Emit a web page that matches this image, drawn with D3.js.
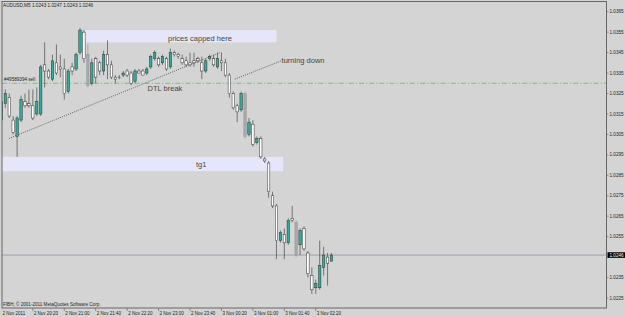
<!DOCTYPE html>
<html>
<head>
<meta charset="utf-8">
<script src="https://d3js.org/d3.v7.min.js"></script>
<style>
body { margin: 0; background: #d4d4d4; }
svg { display: block; }
</style>
</head>
<body>
<div id="chart-container"></div>
<script>
// AUDUSD M5, bars from 2 Nov 2011 19:40 to 3 Nov 2011 02:40
var opens = [1.0312, 1.0320, 1.0323, 1.0312, 1.0304, 1.0312, 1.0321, 1.0320, 1.0319, 1.0315,
    1.0315, 1.0339, 1.0336, 1.0332, 1.0340, 1.0338, 1.0337, 1.0326, 1.0338, 1.0337,
    1.0345, 1.0355, 1.0344, 1.0330, 1.0342, 1.0340, 1.0336, 1.0344, 1.0339, 1.0333,
    1.0333, 1.0334, 1.0336, 1.0335, 1.0331, 1.0336, 1.0336, 1.0335, 1.0338, 1.0342,
    1.0342, 1.0340, 1.0342, 1.0338, 1.0345, 1.0344, 1.0342, 1.0341, 1.0340, 1.0341,
    1.0342, 1.0340, 1.0336, 1.0342, 1.0342, 1.0338, 1.0341, 1.0340, 1.0334, 1.0325,
    1.0319, 1.0317, 1.0325, 1.0305, 1.0310, 1.0301, 1.0303, 1.0293, 1.0291, 1.0275,
    1.0270, 1.0253, 1.0256, 1.0252, 1.0264, 1.0262, 1.0251, 1.0259, 1.0247, 1.0236,
    1.0230, 1.0230, 1.0240, 1.0245, 1.0243];
var highs = [1.0323, 1.0327, 1.0325, 1.0314, 1.0314, 1.0324, 1.0325, 1.0327, 1.0327, 1.0328,
    1.0339, 1.0350, 1.0337, 1.0344, 1.0349, 1.0344, 1.0342, 1.0337, 1.0340, 1.0345,
    1.0357, 1.0356, 1.0349, 1.0342, 1.0343, 1.0341, 1.0346, 1.0351, 1.0341, 1.0334,
    1.0334, 1.0336, 1.0337, 1.0336, 1.0337, 1.0337, 1.0337, 1.0338, 1.0344, 1.0346,
    1.0343, 1.0344, 1.0343, 1.0347, 1.0346, 1.0345, 1.0344, 1.0343, 1.0345, 1.0345,
    1.0343, 1.0343, 1.0342, 1.0344, 1.0344, 1.0345, 1.0345, 1.0342, 1.0335, 1.0326,
    1.0320, 1.0326, 1.0326, 1.0313, 1.0312, 1.0304, 1.0304, 1.0294, 1.0292, 1.0277,
    1.0271, 1.0258, 1.0259, 1.0264, 1.0270, 1.0263, 1.0259, 1.0260, 1.0248, 1.0240,
    1.0234, 1.0253, 1.0250, 1.0247, 1.0247];
var lows = [1.0311, 1.0318, 1.0313, 1.0305, 1.0294, 1.0311, 1.0318, 1.0318, 1.0312, 1.0314,
    1.0314, 1.0328, 1.0332, 1.0331, 1.0334, 1.0333, 1.0322, 1.0325, 1.0334, 1.0336,
    1.0344, 1.0340, 1.0328, 1.0329, 1.0330, 1.0334, 1.0334, 1.0332, 1.0332, 1.0330,
    1.0332, 1.0333, 1.0333, 1.0329, 1.0330, 1.0335, 1.0334, 1.0334, 1.0337, 1.0341,
    1.0338, 1.0339, 1.0336, 1.0337, 1.0343, 1.0342, 1.0339, 1.0338, 1.0338, 1.0338,
    1.0340, 1.0332, 1.0335, 1.0341, 1.0338, 1.0337, 1.0336, 1.0333, 1.0323, 1.0317,
    1.0311, 1.0316, 1.0303, 1.0304, 1.0299, 1.0300, 1.0293, 1.0291, 1.0274, 1.0269,
    1.0244, 1.0252, 1.0244, 1.0251, 1.0262, 1.0245, 1.0246, 1.0248, 1.0235, 1.0227,
    1.0227, 1.0229, 1.0236, 1.0231, 1.0243];
var closes = [1.0321, 1.0325, 1.0314, 1.0306, 1.0313, 1.0322, 1.0319, 1.0319, 1.0313, 1.0321,
    1.0338, 1.0336, 1.0333, 1.0341, 1.0335, 1.0337, 1.0325, 1.0336, 1.0336, 1.0344,
    1.0356, 1.0342, 1.0329, 1.0340, 1.0333, 1.0336, 1.0344, 1.0339, 1.0333, 1.0332,
    1.0333, 1.0335, 1.0334, 1.0330, 1.0336, 1.0335, 1.0334, 1.0337, 1.0343, 1.0345,
    1.0339, 1.0343, 1.0337, 1.0345, 1.0344, 1.0343, 1.0340, 1.0339, 1.0339, 1.0340,
    1.0341, 1.0336, 1.0341, 1.0343, 1.0339, 1.0342, 1.0340, 1.0334, 1.0325, 1.0318,
    1.0316, 1.0325, 1.0304, 1.0311, 1.0300, 1.0303, 1.0294, 1.0292, 1.0277, 1.0270,
    1.0253, 1.0257, 1.0252, 1.0263, 1.0263, 1.0246, 1.0258, 1.0249, 1.0237, 1.0229,
    1.0232, 1.0241, 1.0246, 1.0242, 1.0246];
// bars that show up grey in the screenshot
var greyBars = [22, 62, 75];

var symbolName = "AUDUSD,M5";
var bidPrice = 1.0246;
var priceTicks = [1.0225, 1.0235, 1.0245, 1.0255, 1.0265, 1.0275, 1.0285, 1.0295,
    1.0305, 1.0315, 1.0325, 1.0335, 1.0345, 1.0355, 1.0365];
var firstDateLabel = "2 Nov 2011";
var timeTickBars = [8, 16, 24, 32, 40, 48, 56, 64, 72, 80];
var timeTickLabels = ["2 Nov 20:20", "2 Nov 21:00", "2 Nov 21:40", "2 Nov 22:20", "2 Nov 23:00",
    "2 Nov 23:40", "3 Nov 00:20", "3 Nov 01:00", "3 Nov 01:40", "3 Nov 02:20"];

// objects on the chart: [bar from, bar to, price top, price bottom]
var capZone = [21.3, 70, 1.0356, 1.0350];
var tgZone = [-5, 71.7, 1.0294, 1.0287];
// trend lines: [bar1, price1, bar2, price2]
var dtlLine = [1.93, 1.0303, 55.6, 1.0345];
var turnLine = [59.4, 1.0332, 71.3, 1.0341];
var orderLevel = 1.0330;
var orderLabel = "#49589394 sell";
// text labels: [text, bar, price]
var notes = [
    ["prices capped here", 42.4, 1.03509],
    ["tg1", 49.5, 1.02893],
    ["DTL break", 37.2, 1.0326],
    ["turning down", 71.3, 1.03397]
];
var copyrightText = "FIBH, \u00a9 2001-2011 MetaQuotes Software Corp.";

var width = 625, height = 317;
var frame = {left: 2, top: 1.5, right: 606.5, bottom: 308};

var svg = d3.select("#chart-container")
    .append("svg")
    .attr("width", width)
    .attr("height", height)
    .style("font-family", "'Liberation Sans', Arial, sans-serif");

svg.append("rect")
    .attr("width", width).attr("height", height)
    .attr("fill", "#d4d4d4");

svg.append("clipPath").attr("id", "plotclip")
    .append("rect")
    .attr("x", frame.left).attr("y", frame.top)
    .attr("width", frame.right - frame.left).attr("height", frame.bottom - frame.top);

var x = d3.scaleLinear().domain([0, 84]).range([1.4, 331.5]);
var y = d3.scaleLinear().domain([1.0225, 1.0365]).range([298, 11.7]);

var plot = svg.append("g").attr("clip-path", "url(#plotclip)");

// rectangles (drawn as background)
plot.selectAll("rect.zone")
    .data([capZone, tgZone])
    .enter().append("rect")
    .attr("class", "zone")
    .attr("x", function (d) { return x(d[0]); })
    .attr("y", function (d) { return y(d[2]); })
    .attr("width", function (d) { return x(d[1]) - x(d[0]); })
    .attr("height", function (d) { return y(d[3]) - y(d[2]); })
    .attr("fill", "#e6e6fa");

// order line
plot.append("line")
    .attr("x1", frame.left).attr("x2", frame.right)
    .attr("y1", y(orderLevel)).attr("y2", y(orderLevel))
    .attr("stroke", "#5fcb5f")
    .attr("stroke-width", 0.9)
    .attr("stroke-dasharray", "5,2,1.2,2");

plot.append("text")
    .attr("x", 4).attr("y", y(orderLevel) - 1.8)
    .style("font-size", "4.6px")
    .attr("fill", "#222")
    .text(orderLabel);

// bid line
plot.append("line")
    .attr("x1", frame.left).attr("x2", frame.right)
    .attr("y1", y(bidPrice)).attr("y2", y(bidPrice))
    .attr("stroke", "#8797a6")
    .attr("stroke-width", 0.8);

// trend lines
plot.selectAll("line.trend")
    .data([dtlLine, turnLine])
    .enter().append("line")
    .attr("class", "trend")
    .attr("x1", function (d) { return x(d[0]); })
    .attr("y1", function (d) { return y(d[1]); })
    .attr("x2", function (d) { return x(d[2]); })
    .attr("y2", function (d) { return y(d[3]); })
    .attr("stroke", "#3a3a3a")
    .attr("stroke-width", 0.75)
    .attr("stroke-dasharray", "1,1.2");

// candles
var bars = opens.map(function (o, i) {
    return {i: i, open: o, high: highs[i], low: lows[i], close: closes[i], grey: greyBars.indexOf(i) >= 0};
});

plot.selectAll("line.wick")
    .data(bars)
    .enter().append("line")
    .attr("class", "wick")
    .attr("x1", function (d) { return x(d.i); })
    .attr("x2", function (d) { return x(d.i); })
    .attr("y1", function (d) { return y(d.high); })
    .attr("y2", function (d) { return y(d.low); })
    .attr("stroke", function (d) { return d.grey ? "#8e8e8e" : "#333"; })
    .attr("stroke-width", 0.6);

plot.selectAll("rect.body")
    .data(bars)
    .enter().append("rect")
    .attr("class", "body")
    .attr("x", function (d) { return x(d.i) - 1.2; })
    .attr("width", 2.4)
    .attr("y", function (d) { return y(Math.max(d.open, d.close)); })
    .attr("height", function (d) {
        return Math.max(0.3, Math.abs(y(d.open) - y(d.close)));
    })
    .attr("fill", function (d) {
        if (d.grey) return "#a9a9a9";
        return d.close > d.open ? "#2bb09e" : "#ffffff";
    })
    .attr("stroke", function (d) { return d.grey ? "#939393" : "#2e2e2e"; })
    .attr("stroke-width", 0.5);

// text objects
plot.selectAll("text.note")
    .data(notes)
    .enter().append("text")
    .attr("class", "note")
    .attr("x", function (d) { return x(d[1]); })
    .attr("y", function (d) { return y(d[2]); })
    .style("font-size", "7.5px")
    .attr("fill", "#454545")
    .text(function (d) { return d[0]; });

// header + copyright
var last = bars[bars.length - 1];
svg.append("text")
    .attr("x", 3).attr("y", 7)
    .style("font-size", "4.7px")
    .attr("fill", "#1e1e1e")
    .text(symbolName + " " + [last.open, last.high, last.low, last.close].map(d3.format(".4f")).join(" "));

svg.append("text")
    .attr("x", 3).attr("y", 306)
    .style("font-size", "4.6px")
    .attr("fill", "#1e1e1e")
    .text(copyrightText);

// frame
svg.append("rect")
    .attr("x", frame.left).attr("y", frame.top)
    .attr("width", frame.right - frame.left)
    .attr("height", frame.bottom - frame.top)
    .attr("fill", "none")
    .attr("stroke", "#5c5c5c")
    .attr("stroke-width", 0.9);

// price axis - the label under the bid box is hidden like in MT4
var yAxis = svg.append("g").attr("class", "y-axis");
yAxis.selectAll("line")
    .data(priceTicks)
    .enter().append("line")
    .attr("x1", frame.right).attr("x2", frame.right + 2)
    .attr("y1", function (d) { return y(d); })
    .attr("y2", function (d) { return y(d); })
    .attr("stroke", "#5c5c5c").attr("stroke-width", 0.6);
yAxis.selectAll("text")
    .data(priceTicks.filter(function (d) { return Math.abs(y(d) - y(bidPrice)) > 6; }))
    .enter().append("text")
    .attr("x", frame.right + 3)
    .attr("y", function (d) { return y(d) + 1.6; })
    .style("font-size", "4.6px")
    .attr("fill", "#1e1e1e")
    .text(function (d) { return d3.format(".4f")(d); });

// bid label
svg.append("rect")
    .attr("x", frame.right + 1).attr("y", y(bidPrice) - 2.8)
    .attr("width", width - frame.right - 1).attr("height", 5.6)
    .attr("fill", "#000");
svg.append("text")
    .attr("x", frame.right + 3).attr("y", y(bidPrice) + 1.6)
    .style("font-size", "4.6px")
    .attr("fill", "#fff")
    .text(d3.format(".4f")(bidPrice));

// time axis
var xAxis = svg.append("g").attr("class", "x-axis");
xAxis.append("text")
    .attr("x", 2.5).attr("y", 315)
    .style("font-size", "4.5px")
    .attr("fill", "#1e1e1e")
    .text(firstDateLabel);
xAxis.selectAll("line")
    .data(timeTickBars)
    .enter().append("line")
    .attr("x1", function (d) { return x(d); })
    .attr("x2", function (d) { return x(d); })
    .attr("y1", frame.bottom).attr("y2", frame.bottom + 3)
    .attr("stroke", "#5c5c5c").attr("stroke-width", 0.6);
xAxis.selectAll("text.tl")
    .data(timeTickBars)
    .enter().append("text")
    .attr("class", "tl")
    .attr("x", function (d) { return x(d) + 1; })
    .attr("y", 315)
    .style("font-size", "4.5px")
    .attr("fill", "#1e1e1e")
    .text(function (d, i) { return timeTickLabels[i]; });
</script>
</body>
</html>
